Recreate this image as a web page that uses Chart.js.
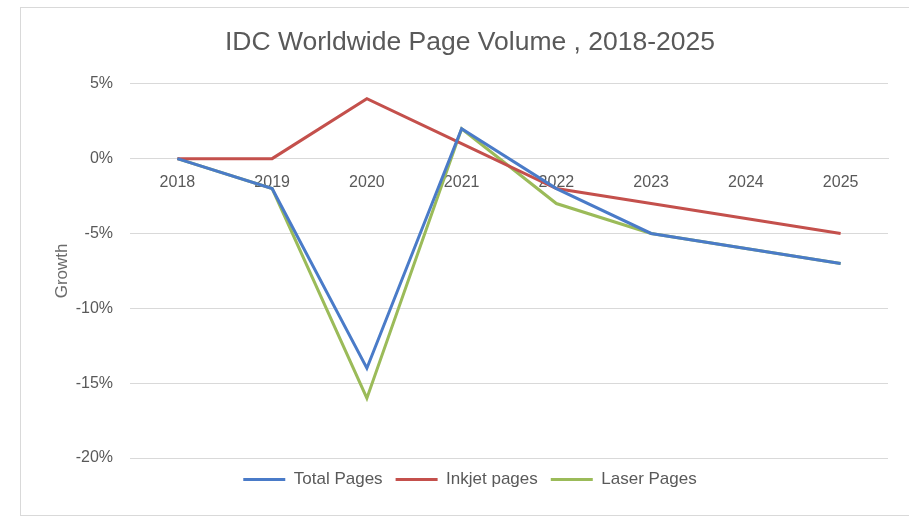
<!DOCTYPE html>
<html>
<head>
<meta charset="utf-8">
<script src="https://cdn.jsdelivr.net/npm/chart.js@4.4.1/dist/chart.umd.min.js"></script>
<style>
  body { margin: 0; background: #fff; }
  #frame {
    position: absolute; left: 20px; top: 7px;
    width: 890px; height: 507px;
    border: 1px solid #d9d9d9;
  }
</style>
</head>
<body>
<div id="frame"><canvas id="grafico"></canvas></div>
<script>
// Datos
var years = ['2018', '2019', '2020', '2021', '2022', '2023', '2024', '2025'];
var totalPages = [0, -2, -14, 2, -2, -5, -6, -7];
var inkjetPages = [0, 0, 4, 1, -2, -3, -4, -5];
var laserPages = [0, -2, -16, 2, -3, -5, -6, -7];
var yTicks = [5, 0, -5, -10, -15, -20];

var fuente = 'Liberation Sans, Arial, sans-serif';
var gris = '#595959';

var datos = {
    labels: years,
    datasets: [
        {
            label: 'Total Pages',
            data: totalPages,
            borderColor: '#4a7bc8',
            backgroundColor: '#4a7bc8',
            borderWidth: 3
        },
        {
            label: 'Inkjet pages',
            data: inkjetPages,
            borderColor: '#c4504c',
            backgroundColor: '#c4504c',
            borderWidth: 3
        },
        {
            label: 'Laser Pages',
            data: laserPages,
            borderColor: '#9bbb59',
            backgroundColor: '#9bbb59',
            borderWidth: 3
        }
    ]
};

var config = {
    type: 'line',
    data: datos,
    options: {
        responsive: false,
        animation: false,
        layout: { padding: { left: 31, right: 23, top: 0, bottom: 17 } },
        elements: {
            point: { radius: 0 },
            line: { tension: 0 }
        },
        scales: {
            x: {
                type: 'category',
                offset: true,
                position: { y: 0 },
                grid: { display: false, drawTicks: false },
                border: { display: true, color: '#d9d9d9' },
                ticks: { color: gris, font: { family: fuente, size: 16 }, padding: 14 }
            },
            y: {
                min: -20,
                max: 5,
                afterBuildTicks: function(scale) {
                    scale.ticks = yTicks.map(function(v) { return { value: v }; });
                },
                afterFit: function(scale) { scale.width = 78; },
                grid: { color: '#d9d9d9', drawTicks: false },
                border: { display: false },
                ticks: {
                    color: gris,
                    font: { family: fuente, size: 16 },
                    padding: 17,
                    callback: function(v) { return v + '%'; }
                },
                title: {
                    display: true,
                    text: 'Growth',
                    color: '#6b6b6b',
                    font: { family: fuente, size: 17 },
                    padding: { top: 0, bottom: 0 }
                }
            }
        },
        plugins: {
            title: {
                display: true,
                text: 'IDC Worldwide Page Volume , 2018-2025',
                color: gris,
                font: { family: fuente, size: 26.5, weight: 'normal' },
                padding: { top: 19, bottom: 25 }
            },
            legend: {
                position: 'bottom',
                labels: {
                    color: gris,
                    font: { family: fuente, size: 17 },
                    boxWidth: 42,
                    boxHeight: 3,
                    padding: 13,
                    generateLabels: function(chart) {
                        var items = Chart.defaults.plugins.legend.labels.generateLabels(chart);
                        items.forEach(function(it) { it.lineWidth = 0; });
                        return items;
                    }
                }
            },
            tooltip: { enabled: false }
        }
    }
};

var lienzo = document.getElementById('grafico');
lienzo.width = 890;
lienzo.height = 507;
var graficoLineas = new Chart(lienzo, config);
</script>
</body>
</html>
